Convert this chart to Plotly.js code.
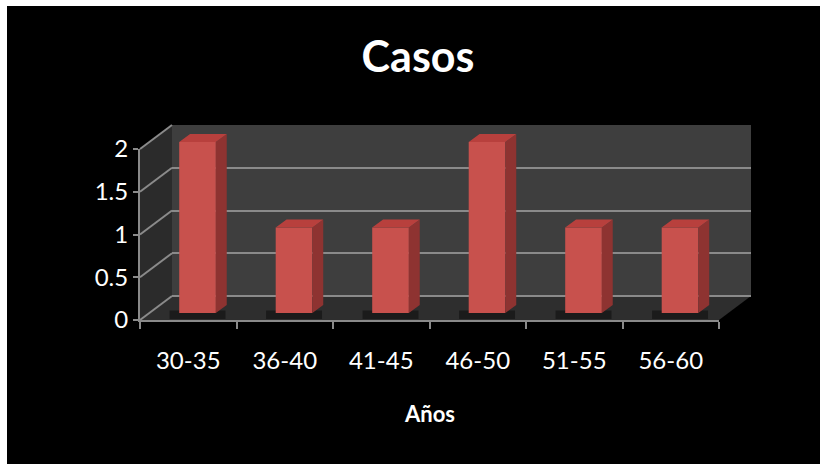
<!DOCTYPE html>
<html>
<head>
<meta charset="utf-8">
<script src="https://cdn.plot.ly/plotly-3.0.1.min.js"></script>
<style>html,body{margin:0;padding:0;background:#fff;}</style>
</head>
<body>
<div id="chart" style="width:820px;height:464px"></div>
<script>
// ---- data ----
const categories = ['30-35', '36-40', '41-45', '46-50', '51-55', '56-60'];
const casos = [2, 1, 1, 2, 1, 1];
const yTicks = [0, 0.5, 1, 1.5, 2];
const chartTitle = 'Casos';
const xTitle = 'Años';

// ---- geometry of the pseudo 3-D box (pixels) ----
const W = 820, H = 464;
const px = v => v / W;
const py = v => 1 - v / H;
const front = { left: 140, right: 719, base: 320, perUnit: 85.5 };
const depth = { dx: 32, dy: 24 };       // offset from the front plane to the back wall
const barStart = 0.29, barThick = 0.34;  // bar position inside the depth (fraction)
const barWidth = 0.38;
const yMax = 2;
const nCat = categories.length;
const pxPerCat = (front.right - front.left) / nCat;
const barRange = [-0.12, 2.4];

// y pixel of value v on a plane shifted back by fraction f of the depth
const planeY = (v, f) => front.base - depth.dy * f - v * front.perUnit;
const planeX = (xpx, f) => xpx + depth.dx * f;

const font = 'Lato, "Open Sans", sans-serif';
const grid = '#8a8a8a';

// ---- bar faces ----
const idx = categories.map((_, i) => i);
const ddx = depth.dx * barThick / pxPerCat;
const ddy = depth.dy * barThick / front.perUnit;

const sideX = [], sideY = [], topX = [], topY = [];
casos.forEach((v, i) => {
  const r = i + barWidth / 2, l = i - barWidth / 2;
  sideX.push(r, r + ddx, r + ddx, r, r, null);
  sideY.push(0, ddy, v + ddy, v, 0, null);
  topX.push(l, r, r + ddx, l + ddx, l, null);
  topY.push(v, v, v + ddy, v + ddy, v, null);
});

const traces = [
  // back wall carries the gridlines (xy)
  { x: [0], y: [0], xaxis: 'x', yaxis: 'y', type: 'scatter', mode: 'markers',
    marker: { opacity: 0 }, hoverinfo: 'skip', showlegend: false },
  // soft footprint on the floor under each bar
  { x: idx, y: casos.map(() => 0.1), base: casos.map(() => -0.07), xaxis: 'x2', yaxis: 'y2', type: 'bar',
    width: barWidth + 0.2, offset: -barWidth / 2 - 0.1,
    marker: { color: 'rgba(0,0,0,0.4)', line: { width: 0 } }, hoverinfo: 'skip', showlegend: false },
  // front face of each bar
  { x: idx, y: casos, xaxis: 'x2', yaxis: 'y2', type: 'bar', width: barWidth, offset: -barWidth / 2,
    marker: { color: '#c8514d', line: { width: 0 } }, name: chartTitle, showlegend: false },
  // right side of each bar
  { x: sideX, y: sideY, xaxis: 'x2', yaxis: 'y2', type: 'scatter', mode: 'lines',
    fill: 'toself', fillcolor: '#8e3331', line: { width: 0 }, hoverinfo: 'skip', showlegend: false },
  // top of each bar
  { x: topX, y: topY, xaxis: 'x2', yaxis: 'y2', type: 'scatter', mode: 'lines',
    fill: 'toself', fillcolor: '#b8403d', line: { width: 0 }, hoverinfo: 'skip', showlegend: false },
  // front axes (categories + value scale)
  { x: categories, y: casos, xaxis: 'x3', yaxis: 'y3', type: 'scatter', mode: 'markers',
    marker: { opacity: 0 }, hoverinfo: 'skip', showlegend: false }
];

// ---- decorations: background, walls, floor ----
const shapes = [
  { type: 'rect', xref: 'paper', yref: 'paper', x0: px(7), x1: 1, y0: 0, y1: py(6),
    fillcolor: '#000', line: { width: 0 }, layer: 'below' }
];
const P = (x, y) => px(x) + ',' + py(y);
const backL = planeX(front.left, 1), backR = planeX(front.right, 1);
// back wall
shapes.push({ type: 'path', xref: 'paper', yref: 'paper', layer: 'below',
  path: 'M' + P(backL, planeY(0, 1)) + 'L' + P(backR, planeY(0, 1)) + 'L' + P(backR, planeY(yMax, 1)) + 'L' + P(backL, planeY(yMax, 1)) + 'Z',
  fillcolor: '#3e3e3e', line: { width: 0 } });
// left wall
shapes.push({ type: 'path', xref: 'paper', yref: 'paper', layer: 'below',
  path: 'M' + P(front.left, planeY(0, 0)) + 'L' + P(backL, planeY(0, 1)) + 'L' + P(backL, planeY(yMax, 1)) + 'L' + P(front.left, planeY(yMax, 0)) + 'Z',
  fillcolor: '#2b2b2b', line: { width: 0 } });
// floor
shapes.push({ type: 'path', xref: 'paper', yref: 'paper', layer: 'below',
  path: 'M' + P(front.left, planeY(0, 0)) + 'L' + P(front.right, planeY(0, 0)) + 'L' + P(backR, planeY(0, 1)) + 'L' + P(backL, planeY(0, 1)) + 'Z',
  fillcolor: '#2e2e2e', line: { width: 0 } });
// gridlines running along the left wall
yTicks.forEach(t => {
  shapes.push({ type: 'line', xref: 'paper', yref: 'paper', layer: 'below',
    x0: px(front.left), y0: py(planeY(t, 0)), x1: px(backL), y1: py(planeY(t, 1)),
    line: { color: grid, width: 2 } });
});

const layout = {
  width: W, height: H,
  margin: { l: 0, r: 0, t: 0, b: 0 },
  paper_bgcolor: '#fff',
  plot_bgcolor: 'rgba(0,0,0,0)',
  showlegend: false,
  barmode: 'overlay',
  title: { text: chartTitle, x: px(418), xanchor: 'center', y: py(57), yanchor: 'middle', yref: 'paper',
    font: { family: font, size: 43, color: '#fff', weight: 700 } },
  // back wall
  xaxis: { domain: [px(backL), px(backR)], range: [-0.5, nCat - 0.5], visible: false, fixedrange: true },
  yaxis: { domain: [py(planeY(0, 1)), py(planeY(yMax, 1))], range: [0, yMax + 0.0001], tickvals: yTicks,
    showgrid: true, gridcolor: grid, gridwidth: 2, zeroline: true, zerolinecolor: grid, zerolinewidth: 2,
    showticklabels: false, ticks: '', showline: false, fixedrange: true },
  // bars
  xaxis2: { domain: [px(planeX(front.left, barStart)), px(planeX(front.right, barStart))],
    range: [-0.5, nCat - 0.5], visible: false, anchor: 'y2', fixedrange: true },
  yaxis2: { domain: [py(planeY(barRange[0], barStart)), py(planeY(barRange[1], barStart))],
    range: barRange, visible: false, anchor: 'x2', fixedrange: true },
  // front axes
  xaxis3: { domain: [px(front.left), px(front.right)], anchor: 'y3', type: 'category',
    range: [-0.5, nCat - 0.5],
    showline: true, linecolor: grid, linewidth: 2, ticks: 'outside', tickson: 'boundaries',
    ticklen: 7, tickwidth: 2, tickcolor: grid, showgrid: false, zeroline: false,
    tickfont: { family: font, size: 24, color: '#fff' }, ticklabelstandoff: 18, fixedrange: true },
  yaxis3: { domain: [py(planeY(0, 0)), py(planeY(yMax, 0))], anchor: 'x3', range: [0, yMax],
    tickvals: yTicks, showline: true, linecolor: grid, linewidth: 2, ticks: 'outside', ticklen: 5,
    tickwidth: 2, tickcolor: grid, showgrid: false, zeroline: false,
    tickfont: { family: font, size: 24, color: '#fff' }, fixedrange: true },
  annotations: [
    { text: xTitle, xref: 'paper', yref: 'paper', x: px(429), y: py(413), xanchor: 'center', yanchor: 'middle',
      showarrow: false, font: { family: font, size: 22, color: '#fff', weight: 700 } }
  ],
  shapes: shapes
};

Plotly.newPlot('chart', traces, layout, { displayModeBar: false, staticPlot: true });
</script>
</body>
</html>
